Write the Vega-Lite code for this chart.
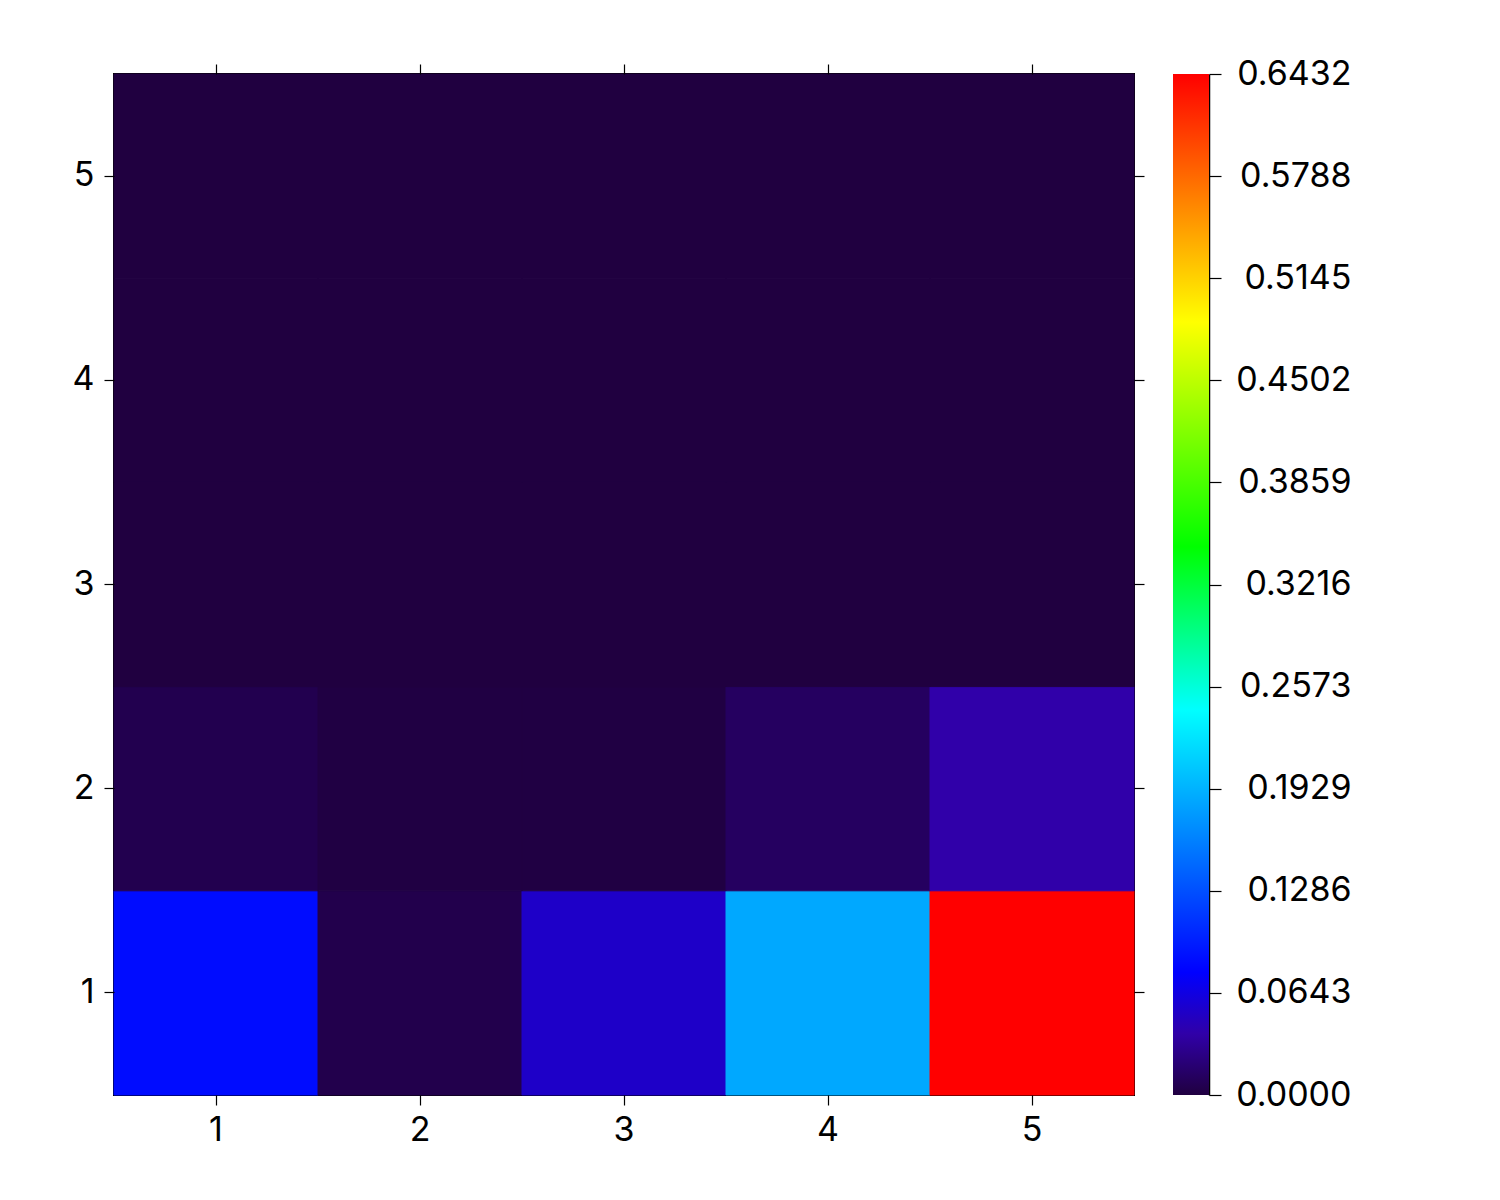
{
  "$schema": "https://vega.github.io/schema/vega-lite/v6.json",
  "autosize": {"type": "pad"},
  "padding": {"left": 71, "top": 57, "right": 5, "bottom": 5},
  "background": "white",
  "config": {
    "font": "Inter",
    "axis": {"labelFont": "Inter", "labelFontSize": 34, "labelColor": "#000", "tickColor": "#000", "tickWidth": 1.2, "grid": false, "title": null}
  },
  "spacing": 39,
  "bounds": "flush",
  "hconcat": [
    {
      "width": 1020,
      "height": 1021,
      "view": {"stroke": "#000", "strokeWidth": 2},
      "data": {"values": [
        {"x": 1, "y": 1, "v": 0.085}, {"x": 2, "y": 1, "v": 0.0045}, {"x": 3, "y": 1, "v": 0.053}, {"x": 4, "y": 1, "v": 0.186}, {"x": 5, "y": 1, "v": 0.6432},
        {"x": 1, "y": 2, "v": 0.0055}, {"x": 2, "y": 2, "v": 0.001}, {"x": 3, "y": 2, "v": 0.001}, {"x": 4, "y": 2, "v": 0.012}, {"x": 5, "y": 2, "v": 0.039},
        {"x": 1, "y": 3, "v": 0}, {"x": 2, "y": 3, "v": 0}, {"x": 3, "y": 3, "v": 0}, {"x": 4, "y": 3, "v": 0}, {"x": 5, "y": 3, "v": 0},
        {"x": 1, "y": 4, "v": 0}, {"x": 2, "y": 4, "v": 0}, {"x": 3, "y": 4, "v": 0}, {"x": 4, "y": 4, "v": 0}, {"x": 5, "y": 4, "v": 0},
        {"x": 1, "y": 5, "v": 0}, {"x": 2, "y": 5, "v": 0}, {"x": 3, "y": 5, "v": 0}, {"x": 4, "y": 5, "v": 0}, {"x": 5, "y": 5, "v": 0}
      ]},
      "layer": [
        {
          "mark": {"type": "rect", "strokeWidth": 1},
          "encoding": {
            "x": {"field": "x", "type": "ordinal", "scale": {"paddingInner": 0, "paddingOuter": 0}, "axis": {"orient": "bottom", "labelAngle": 0, "domain": false, "tickSize": 10, "labelPadding": 8}},
            "y": {"field": "y", "type": "ordinal", "sort": "descending", "scale": {"paddingInner": 0, "paddingOuter": 0}, "axis": {"orient": "left", "domain": false, "tickSize": 10, "labelPadding": 10}},
            "color": {"field": "v", "type": "quantitative", "legend": null,
              "scale": {"domain": [0, 0.0386, 0.0772, 0.2425, 0.3454, 0.4869, 0.6432], "range": ["#200040", "#3000a8", "#0000ff", "#00ffff", "#00ff00", "#ffff00", "#ff0000"], "interpolate": "rgb"}},
            "stroke": {"field": "v", "type": "quantitative", "legend": null,
              "scale": {"domain": [0, 0.0386, 0.0772, 0.2425, 0.3454, 0.4869, 0.6432], "range": ["#200040", "#3000a8", "#0000ff", "#00ffff", "#00ff00", "#ffff00", "#ff0000"], "interpolate": "rgb"}}
          }
        },
        {
          "mark": {"type": "rect", "opacity": 0},
          "encoding": {
            "x": {"field": "x", "type": "ordinal", "axis": {"orient": "top", "labels": false, "domain": false, "tickSize": 10}},
            "y": {"field": "y", "type": "ordinal", "sort": "descending", "axis": {"orient": "right", "labels": false, "domain": false, "tickSize": 10}}
          }
        }
      ],
      "resolve": {"axis": {"x": "independent", "y": "independent"}}
    },
    {
      "width": 36,
      "height": 1021,
      "view": {"stroke": null},
      "data": {"values": [{"lo": 0, "hi": 0.6432}]},
      "mark": {"type": "rect", "color": {"gradient": "linear", "x1": 0, "y1": 1, "x2": 0, "y2": 0, "stops": [
        {"offset": 0, "color": "#200040"}, {"offset": 0.06, "color": "#3000a8"}, {"offset": 0.12, "color": "#0000ff"}, {"offset": 0.377, "color": "#00ffff"}, {"offset": 0.537, "color": "#00ff00"}, {"offset": 0.757, "color": "#ffff00"}, {"offset": 1, "color": "#ff0000"}]}},
      "encoding": {
        "y": {"field": "lo", "type": "quantitative", "scale": {"domain": [0, 0.6432], "nice": false, "zero": false},
          "axis": {"orient": "right", "values": [0, 0.0643, 0.1286, 0.1929, 0.2573, 0.3216, 0.3859, 0.4502, 0.5145, 0.5788, 0.6432], "format": ".4f", "domain": true, "domainColor": "#000", "domainWidth": 1.5, "tickSize": 12, "labelAlign": "right", "labelPadding": 130, "labelFlush": false, "labelOverlap": false}},
        "y2": {"field": "hi"}
      }
    }
  ]
}
